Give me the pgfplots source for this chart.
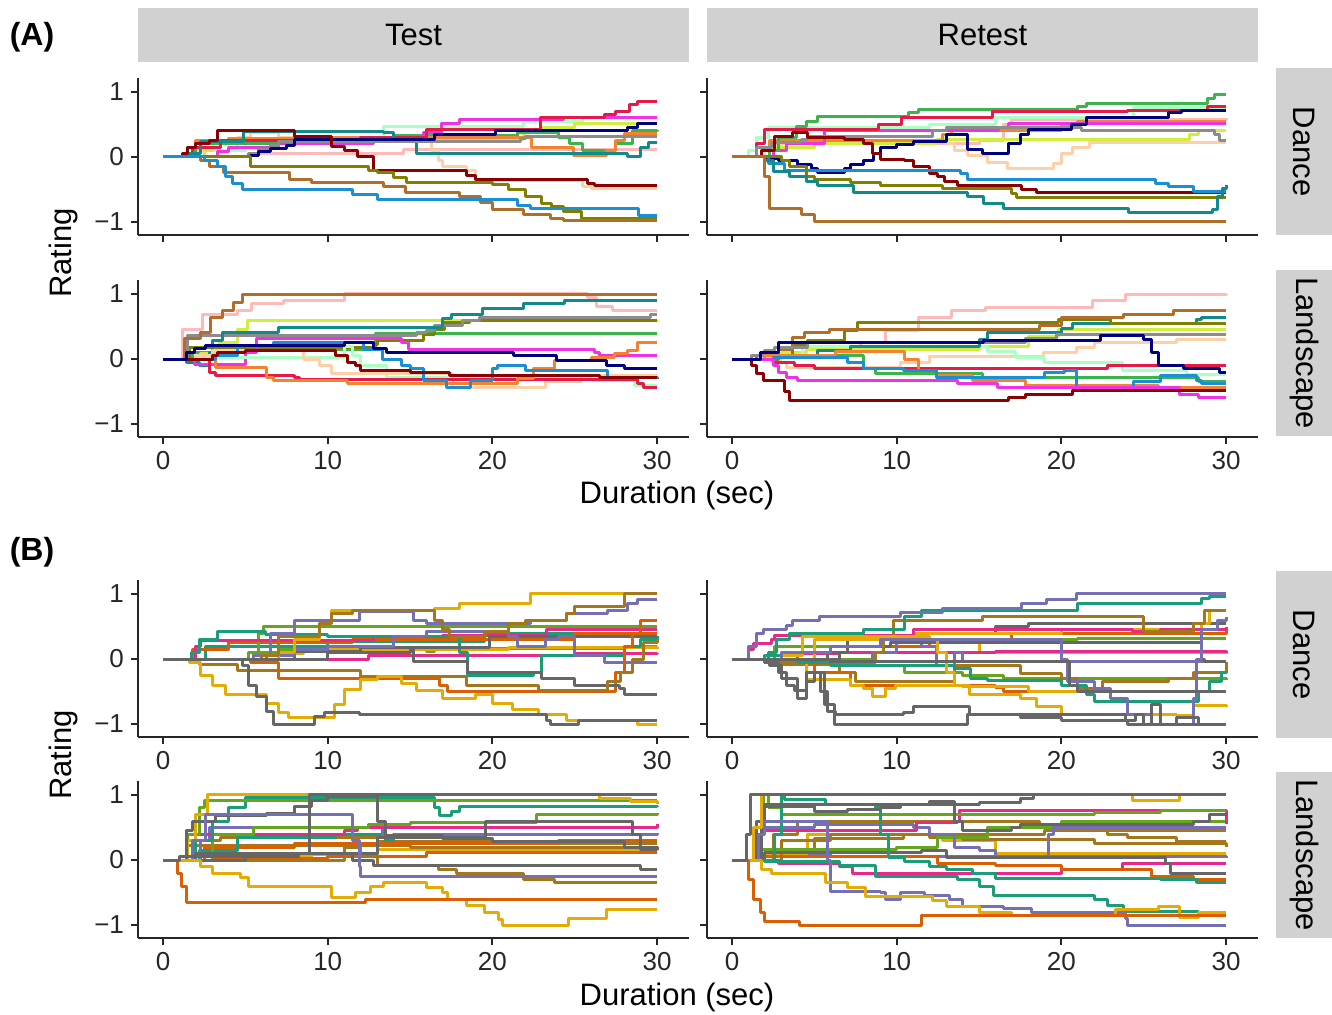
\documentclass[border=0pt]{standalone}
\usepackage{fontspec}
\setmainfont{Liberation Sans}
\usepackage{pgfplots}
\pgfplotsset{compat=1.18}
% block A colours
\definecolor{cCrim}{HTML}{E6194B}
\definecolor{cMag}{HTML}{F032E6}
\definecolor{cMint}{HTML}{AAFFC3}
\definecolor{cNavy}{HTML}{000080}
\definecolor{cMaroon}{HTML}{8B0000}
\definecolor{cTeal}{HTML}{138A8A}
\definecolor{cOlive}{HTML}{808000}
\definecolor{cBrown}{HTML}{B06E28}
\definecolor{cBlue}{HTML}{1B8FD4}
\definecolor{cApri}{HTML}{FFCFA8}
\definecolor{cPink}{HTML}{FFB9B9}
\definecolor{cOrange}{HTML}{F58231}
\definecolor{cGrey}{HTML}{8C8C8C}
\definecolor{cLime}{HTML}{CFEF3C}
\definecolor{cGreen}{HTML}{3CB44B}
% Dark2
\definecolor{dTeal}{HTML}{1B9E77}
\definecolor{dOrange}{HTML}{D95F02}
\definecolor{dPurple}{HTML}{7570B3}
\definecolor{dPink}{HTML}{E7298A}
\definecolor{dGreen}{HTML}{66A61E}
\definecolor{dYellow}{HTML}{E6AB02}
\definecolor{dBrown}{HTML}{A6761D}
\definecolor{dGray}{HTML}{666666}
\definecolor{stripgray}{HTML}{D1D1D1}
\definecolor{axcol}{HTML}{262626}

\newcommand{\pl}[2]{\addplot[#1] coordinates {#2};}

\pgfplotsset{
  panel/.style={
    scale only axis, width=275.5pt, height=78.5pt,
    xmin=-1.52, xmax=31.94, ymin=-1.2, ymax=1.215,
    axis x line*=bottom, axis y line*=left,
    axis line style={-, line width=1pt, color=axcol},
    xtick={0,10,20,30}, xticklabels={0,10,20,30},
    ytick={-1,0,1}, yticklabels={−1,0,1},
    tick align=outside, major tick length=3.5pt,
    tick style={line width=0.9pt, color=axcol},
    ticklabel style={font=\fontsize{13}{15}\selectfont, text=axcol},
    every axis plot/.append style={const plot, no markers, line width=1.5pt, line join=round},
  },
  notick/.style={xticklabels={}},
  noylab/.style={yticklabels={}},
}

\begin{document}
\begin{tikzpicture}
\path[use as bounding box] (0,0) rectangle (666pt,-507pt);

% ---------- strips ----------
\fill[stripgray] (69pt,-4pt) rectangle (344.5pt,-31pt);
\fill[stripgray] (353.5pt,-4pt) rectangle (629pt,-31pt);
\node[font=\fontsize{15.5}{18}\selectfont] at (206.75pt,-17.5pt) {Test};
\node[font=\fontsize{15.5}{18}\selectfont] at (491.25pt,-17.5pt) {Retest};
\fill[stripgray] (638pt,-34pt) rectangle (666pt,-117.5pt);
\fill[stripgray] (638pt,-135pt) rectangle (666pt,-218pt);
\fill[stripgray] (638pt,-285.5pt) rectangle (666pt,-369pt);
\fill[stripgray] (638pt,-386pt) rectangle (666pt,-469pt);
\node[rotate=-90,font=\fontsize{15.5}{18}\selectfont] at (652pt,-75.75pt) {Dance};
\node[rotate=-90,font=\fontsize{15.5}{18}\selectfont] at (652pt,-176.5pt) {Landscape};
\node[rotate=-90,font=\fontsize{15.5}{18}\selectfont] at (652pt,-327.25pt) {Dance};
\node[rotate=-90,font=\fontsize{15.5}{18}\selectfont] at (652pt,-427.5pt) {Landscape};

% ---------- labels ----------
\node[font=\fontsize{16}{18}\selectfont\bfseries] at (16pt,-18.5pt) {(A)};
\node[font=\fontsize{16}{18}\selectfont\bfseries] at (16pt,-276pt) {(B)};
\node[rotate=90,font=\fontsize{15.5}{18}\selectfont] at (31.5pt,-126.5pt) {Rating};
\node[rotate=90,font=\fontsize{15.5}{18}\selectfont] at (31.5pt,-377.5pt) {Rating};
\node[font=\fontsize{15.5}{18}\selectfont] at (338.5pt,-247.5pt) {Duration (sec)};
\node[font=\fontsize{15.5}{18}\selectfont] at (338.5pt,-498.5pt) {Duration (sec)};

% ================= A: Test / Dance =================
\begin{axis}[panel, notick, at={(69pt,-39pt)}, anchor=north west]
\pl{cPink}{(0,0)(5.4,0.06)(14.6,0.11)(30,0.11)}
\pl{cApri}{(0,0)(2,0.1)(4.5,0.3)(5.3,0.37)(7,0.3)(12,0.24)(16,0.24)(16.3,0.1)(16.7,-0.05)(17,-0.14)(18.4,-0.2)(19,-0.36)(25.5,-0.45)(26,-0.48)(30,-0.48)}
\pl{cMint}{(0,0)(2.5,0.1)(5,0.25)(9,0.3)(13.4,0.47)(21.9,0.55)(25.5,0.61)(30,0.61)}
\pl{cLime}{(0,0)(2.5,0.1)(3,0.2)(5.5,0.29)(17,0.27)(21.9,0.38)(23,0.46)(25,0.52)(30,0.52)}
\pl{cGreen}{(0,0)(2,0.2)(8,0.3)(14,0.33)(21.5,0.37)(24,0.3)(24.7,0.2)(25.5,0.1)(27.5,0.2)(28.5,0.4)(30,0.42)}
\pl{cOrange}{(0,0)(1.5,0.15)(2,0.25)(4,0.28)(8,0.3)(20,0.3)(22.4,0.14)(24.9,0.02)(26.9,0.1)(27.5,0.25)(28,0.36)(30,0.36)}
\pl{cMag}{(0,0)(3.3,0.08)(4,0.14)(7,0.2)(12.8,0.3)(15.8,0.38)(16.9,0.52)(18,0.57)(24.3,0.6)(30,0.6)}
\pl{cCrim}{(0,0)(1.8,0.15)(3.5,0.25)(12,0.3)(16,0.42)(22.9,0.6)(26.8,0.66)(27.5,0.7)(28.3,0.8)(28.8,0.86)(30,0.86)}
\pl{cTeal}{(0,0)(1.5,0.05)(2.3,0.24)(4.9,0.39)(12.3,0.39)(13.4,0.38)(14,0.24)(15.4,0.06)(28.2,0)(29,0.15)(29.5,0.22)(30,0.22)}
\pl{cGrey}{(0,0)(5.2,0.05)(5.8,0.12)(6.5,0.18)(7,0.24)(21.7,0.28)(22,0.32)(30,0.32)}
\pl{cNavy}{(0,0)(5.3,0.03)(5.8,0.08)(6.5,0.13)(7.5,0.17)(8,0.27)(16.5,0.34)(20.2,0.41)(28.2,0.45)(28.8,0.51)(30,0.51)}
\pl{cMaroon}{(0,0)(1.2,0.05)(1.5,0.15)(2,0.2)(2.8,0.25)(3.3,0.41)(8,0.32)(10.2,0.16)(11,0.1)(11.8,0.01)(12.8,-0.2)(18.4,-0.28)(19,-0.34)(25.8,-0.4)(26.2,-0.44)(30,-0.44)}
\pl{cOlive}{(0,0)(5.3,-0.14)(12.5,-0.2)(13,-0.24)(14,-0.32)(14.8,-0.39)(20,-0.43)(21,-0.5)(22,-0.6)(23,-0.71)(23.6,-0.76)(24.3,-0.84)(25.4,-0.94)(30,-0.94)}
\pl{cBrown}{(0,0)(2.3,-0.05)(2.8,-0.15)(3.7,-0.24)(7.7,-0.34)(9,-0.39)(13.4,-0.45)(14.7,-0.55)(18,-0.61)(19.3,-0.7)(20,-0.8)(21.9,-0.89)(23.5,-0.95)(24.3,-0.97)(30,-0.97)}
\pl{cBlue}{(0,0)(2.5,-0.05)(3.3,-0.15)(3.8,-0.3)(4.2,-0.4)(4.8,-0.5)(11.5,-0.58)(13,-0.65)(21.5,-0.74)(22.3,-0.79)(28.9,-0.9)(30,-0.9)}
\end{axis}

% ================= A: Retest / Dance =================
\begin{axis}[panel, notick, noylab, at={(353.5pt,-39pt)}, anchor=north west]
\pl{cPink}{(0,0)(2.5,0.2)(15,0.25)(16.5,0.5)(17,0.57)(30,0.6)}
\pl{cMint}{(0,0)(1,0.1)(1.5,0.3)(2.2,0.45)(12,0.5)(16,0.6)(24.4,0.76)(30,0.76)}
\pl{cApri}{(0,0)(2,0.1)(3,0.24)(13,0.2)(13.5,0.1)(14.3,0.02)(15.5,-0.08)(16.7,-0.18)(19.5,-0.1)(20,0.05)(20.7,0.15)(21.7,0.22)(30,0.22)}
\pl{cLime}{(0,0)(2.5,0.15)(5,0.2)(12.5,0.27)(27.8,0.35)(28.3,0.41)(30,0.41)}
\pl{cOrange}{(0,0)(2.3,0.26)(12.8,0.35)(13.3,0.4)(20,0.5)(21,0.55)(30,0.55)}
\pl{cMag}{(0,0)(2.5,0.1)(3.3,0.2)(5.6,0.4)(16.2,0.45)(16.8,0.51)(30,0.51)}
\pl{cGreen}{(0,0)(2.3,0.1)(2.8,0.3)(3.9,0.47)(4.5,0.55)(5.2,0.63)(10.7,0.68)(11.3,0.73)(21,0.78)(21.5,0.83)(28.9,0.9)(29.3,0.96)(30,0.96)}
\pl{cCrim}{(0,0)(1.5,0.2)(2,0.42)(8.9,0.5)(10.3,0.6)(15.8,0.7)(24,0.72)(28.9,0.77)(30,0.77)}
\pl{cGrey}{(0,0)(1.5,0.14)(2.4,0.22)(4.2,0.27)(4.6,0.32)(12.2,0.4)(13,0.46)(21.2,0.41)(29.3,0.35)(29.6,0.26)(30,0.26)}
\pl{cNavy}{(0,0)(2,-0.02)(2.8,-0.05)(4,-0.12)(4.8,-0.18)(5.2,-0.24)(6.8,-0.18)(7.2,-0.12)(8,-0.05)(8.6,0.05)(9,0.14)(10,0.19)(11,0.24)(13,0.34)(14.3,0.11)(15.2,0.06)(16.8,0.2)(17.5,0.35)(18,0.42)(20.6,0.5)(21.5,0.6)(26.5,0.68)(27.3,0.72)(30,0.72)}
\pl{cMaroon}{(0,0)(1.8,0.1)(2.6,0.32)(3.7,0.37)(4.6,0.3)(6.8,0.27)(8,0.2)(8.5,0.05)(9,-0.04)(10.5,-0.06)(11,-0.15)(12,-0.25)(12.5,-0.3)(12.9,-0.38)(13.7,-0.44)(17.6,-0.5)(18.5,-0.55)(30,-0.55)}
\pl{cBlue}{(0,0)(2.2,-0.1)(3.2,-0.2)(13.9,-0.25)(14.3,-0.34)(25.7,-0.4)(26.5,-0.46)(28,-0.53)(30,-0.53)}
\pl{cOlive}{(0,0)(3,-0.05)(3.5,-0.15)(4.5,-0.3)(5,-0.35)(7.2,-0.39)(9,-0.44)(12.8,-0.48)(17,-0.56)(17.3,-0.63)(30,-0.63)}
\pl{cTeal}{(0,0)(2,-0.05)(2.5,-0.22)(3.5,-0.3)(4.5,-0.38)(5.2,-0.44)(7.4,-0.55)(14.3,-0.6)(15.3,-0.71)(16.5,-0.79)(24.1,-0.85)(29.2,-0.8)(29.5,-0.6)(29.8,-0.48)(30,-0.43)}
\pl{cBrown}{(0,0)(2,-0.3)(2.3,-0.79)(4.2,-0.89)(5,-0.99)(30,-0.99)}
\end{axis}

% ================= A: Test / Landscape =================
\begin{axis}[panel, at={(69pt,-140pt)}, anchor=north west]
\pl{cGreen}{(0,0)(1.8,0.1)(3,0.13)(8,0.15)(12.9,0.39)(30,0.39)}
\pl{cLime}{(0,0)(2.3,0.09)(3.4,0.26)(4.5,0.45)(5.1,0.59)(30,0.6)}
\pl{cOlive}{(0,0)(1.6,0.18)(12.8,0.23)(13,0.28)(15.8,0.38)(16.5,0.46)(17.1,0.56)(18.6,0.59)(30,0.59)}
\pl{cGrey}{(0,0)(1.5,0.36)(15.4,0.4)(16,0.44)(16.5,0.51)(18.2,0.59)(19.2,0.64)(29.6,0.69)(30,0.69)}
\pl{cPink}{(0,0)(1.2,0.46)(2.4,0.69)(4.5,0.74)(5.4,0.85)(7.3,0.9)(11,1.0)(25.8,0.95)(26.3,0.8)(27.3,0.74)(30,0.74)}
\pl{cTeal}{(0,0)(1.4,-0.05)(2.2,-0.1)(2.8,0.1)(3,0.28)(3.6,0.41)(6.9,0.41)(7,0.49)(16.9,0.5)(17,0.62)(17.5,0.69)(19.4,0.77)(21.9,0.85)(24.4,0.9)(30,0.9)}
\pl{cBrown}{(0,0)(1.3,0.31)(2.3,0.41)(2.9,0.64)(3.6,0.74)(4.3,0.87)(4.8,0.99)(30,0.99)}
\pl{cMag}{(0,0)(1.9,-0.09)(5,0.1)(5.7,0.31)(14.5,0.25)(14.9,0.15)(26.2,0.1)(26.5,0.05)(30,0.05)}
\pl{cMint}{(0,0)(2,0.03)(11,0.2)(11.5,0.05)(12,-0.1)(13.6,-0.28)(26,-0.33)(28.6,-0.41)(30,-0.41)}
\pl{cApri}{(0,0)(2,0.05)(3,0.13)(7.8,0.13)(8.5,0)(9.5,-0.1)(10.2,-0.23)(17.6,-0.44)(23.2,-0.35)(25.4,-0.26)(30,-0.26)}
\pl{cCrim}{(0,0)(2.8,-0.2)(3.2,-0.26)(8,-0.28)(8.3,-0.32)(28.8,-0.38)(29.2,-0.44)(30,-0.44)}
\pl{cOrange}{(0,0)(3.2,-0.13)(6.3,-0.28)(6.7,-0.33)(11.2,-0.38)(21.5,-0.3)(22.5,-0.15)(23.8,-0.02)(26,0.02)(27.4,0.08)(28.2,0.13)(28.8,0.26)(30,0.26)}
\pl{cBlue}{(0,0)(3.2,0.05)(4.5,0.2)(6.7,0.26)(11.5,0.26)(12.2,0.15)(13.3,0)(14.5,-0.1)(15,-0.15)(15.8,-0.33)(17.2,-0.44)(18.7,-0.33)(20,-0.15)(20.3,-0.1)(22,-0.18)(27,-0.28)(30,-0.3)}
\pl{cMaroon}{(0,0)(3,0.05)(3.3,0.1)(5,0.13)(10,0.13)(10.5,0.05)(11.2,-0.05)(11.7,-0.1)(12,-0.18)(15,-0.2)(17.4,-0.25)(26.5,-0.29)(30,-0.29)}
\pl{cNavy}{(0,0)(1.4,0.1)(1.9,0.16)(2.6,0.21)(11,0.26)(12.8,0.16)(13.6,0.1)(21.3,0.05)(23.9,-0.03)(26.9,-0.1)(28,-0.14)(30,-0.14)}
\end{axis}

% ================= A: Retest / Landscape =================
\begin{axis}[panel, noylab, at={(353.5pt,-140pt)}, anchor=north west]
\pl{cPink}{(0,0)(2.4,0.03)(6.7,0.08)(7.8,0.26)(9.3,0.44)(11.3,0.64)(13.3,0.74)(15.4,0.79)(21.9,0.9)(23.9,0.99)(30,1)}
\pl{cLime}{(0,0)(3,0.1)(4.5,0.15)(15,0.2)(18,0.35)(19.8,0.46)(30,0.46)}
\pl{cApri}{(0,0)(2.4,-0.05)(3.3,-0.13)(10.2,-0.05)(12,0.04)(18.9,0.1)(20.9,0.18)(22,0.26)(27,0.3)(30,0.3)}
\pl{cMint}{(0,0)(2,0.05)(4.3,0.2)(15,0.2)(15.5,0.12)(17.2,0.03)(19,-0.05)(23.7,-0.18)(27.6,-0.24)(30,-0.24)}
\pl{cTeal}{(0,0)(2.6,0.05)(5.2,0.13)(7.2,0.2)(9.5,0.2)(15,0.3)(15.5,0.41)(20,0.47)(20.7,0.54)(28.2,0.6)(28.5,0.64)(30,0.64)}
\pl{cOlive}{(0,0)(1.5,0.05)(3.7,0.23)(4.6,0.28)(6.8,0.44)(7.6,0.56)(19.8,0.6)(23,0.55)(30,0.55)}
\pl{cBrown}{(0,0)(2.8,0.15)(3.7,0.33)(4.4,0.41)(5.9,0.46)(18.7,0.51)(20,0.64)(23.8,0.69)(26.8,0.75)(30,0.75)}
\pl{cGrey}{(0,0)(1.2,0.05)(2,0.13)(2.6,0.18)(4.6,0.26)(17.8,0.31)(19.7,0.38)(30,0.38)}
\pl{cCrim}{(0,0)(2.5,-0.05)(3.8,-0.1)(5,-0.14)(22.8,-0.1)(30,-0.1)}
\pl{cGreen}{(0,0)(2,0.06)(7,0.05)(8,-0.15)(8.7,-0.23)(15.2,-0.29)(28.3,-0.34)(30,-0.34)}
\pl{cOrange}{(0,0)(2,0.05)(6.3,0.12)(9.8,0.12)(10.5,0)(11.3,-0.18)(12.4,-0.26)(14.6,-0.33)(17.8,-0.41)(25.9,-0.44)(30,-0.44)}
\pl{cBlue}{(0,0)(2.5,0.02)(7,-0.05)(8,-0.15)(10.4,-0.18)(12.4,-0.28)(19,-0.2)(20.2,-0.18)(20.9,-0.44)(24.4,-0.35)(26,-0.26)(28.2,-0.33)(28.5,-0.38)(30,-0.38)}
\pl{cMag}{(0,0)(2.5,-0.1)(2.8,-0.2)(3.3,-0.28)(4,-0.33)(13.7,-0.38)(16.1,-0.44)(27.2,-0.54)(28.3,-0.59)(30,-0.59)}
\pl{cMaroon}{(0,0)(1.2,-0.1)(1.5,-0.23)(1.9,-0.33)(3.2,-0.5)(3.5,-0.64)(16.8,-0.59)(17.8,-0.55)(20.7,-0.49)(30,-0.49)}
\pl{cNavy}{(0,0)(1.7,0.1)(2.8,0.26)(15.3,0.28)(22.4,0.36)(25,0.3)(25.5,0.1)(25.9,-0.1)(27.4,-0.14)(29.6,-0.2)(30,-0.2)}
\end{axis}

% ================= B: Test / Dance =================
\begin{axis}[panel, at={(69pt,-290pt)}, anchor=north west]
\pl{dGreen}{(0,0)(5.5,0.1)(7,0.15)(16,0.12)(16.5,0.16)(28,0.2)(30,0.2)}
\pl{dPink}{(0,0)(12.5,0.05)(25,0.08)(30,0.1)}
\pl{dYellow}{(0,0)(7,0.08)(8.5,0.14)(21,0.18)(30,0.15)}
\pl{dTeal}{(0,0)(2.6,0.19)(10,0.27)(19.5,0.4)(24,0.4)(26,0.38)(30,0.38)}
\pl{dOrange}{(0,0)(1.8,0.15)(4,0.25)(8,0.25)(11.5,0.3)(17,0.3)(25,0.4)(30,0.4)}
\pl{dGreen}{(0,0)(5.2,0.1)(5.8,0.4)(6.1,0.5)(30,0.5)}
\pl{dPink}{(0,0)(2,0.2)(2.3,0.29)(12.8,0.34)(17,0.36)(23.3,0.45)(30,0.45)}
\pl{dTeal}{(0,0)(1.7,0.1)(2.2,0.3)(3.3,0.42)(6.2,0.38)(10,0.35)(17.8,0.35)(18,0.1)(18.5,-0.25)(22.5,-0.2)(23,0.05)(26,0.05)(28,0.2)(29,0.3)(30,0.35)}
\pl{dGray}{(0,0)(8,0.12)(12,0.18)(19.8,0.34)(30,0.34)}
\pl{dPurple}{(0,0)(5.5,-0.05)(6.3,0.05)(8,0.15)(10,0.2)(14,0.35)(16,0.42)(21,0.35)(21.5,0.2)(23.2,0.3)(24,0.35)(25,0.05)(26.8,-0.05)(30,-0.05)}
\pl{dPurple}{(0,0)(5.5,0.05)(6.5,0.4)(8,0.6)(11.9,0.73)(15.2,0.6)(16,0.55)(21,0.55)(22.3,0.6)(24.5,0.7)(27,0.75)(28.2,0.85)(28.8,0.91)(30,0.91)}
\pl{dYellow}{(0,0)(7,0.1)(8,0.3)(9.5,0.55)(10.2,0.75)(16.5,0.78)(18,0.86)(22.3,1.0)(30,1.0)}
\pl{dBrown}{(0,0)(6,0.05)(7,0.35)(9.5,0.55)(10.2,0.7)(11.5,0.75)(16.5,0.6)(17,0.45)(17.4,0.35)(19.6,0.42)(21,0.55)(22,0.6)(24.5,0.7)(25,0.8)(28,1.0)(30,1.0)}
\pl{dOrange}{(0,0)(5.3,-0.05)(7,-0.3)(16.8,-0.4)(17.3,-0.5)(27.5,-0.2)(28,0.2)(28.5,0.4)(29,0.6)(30,0.6)}
\pl{dGray}{(0,0)(10,0.1)(15,0.15)(15.2,-0.04)(18,-0.04)(18.5,-0.2)(23,-0.3)(25,-0.4)(27.7,-0.45)(28,-0.55)(30,-0.55)}
\pl{dBrown}{(0,0)(2.2,-0.09)(4.5,-0.17)(12,-0.27)(18.4,-0.4)(22.8,-0.49)(27,-0.35)(27.8,-0.2)(28.5,0)(29.2,0.25)(30,0.3)}
\pl{dYellow}{(0,0)(1.6,-0.05)(2.3,-0.25)(3,-0.4)(3.8,-0.55)(6.3,-0.68)(7,-0.83)(7.6,-0.9)(10.4,-0.7)(11,-0.47)(12,-0.32)(13,-0.27)(14.5,-0.37)(15.4,-0.48)(17,-0.6)(19,-0.55)(20,-0.68)(21.2,-0.78)(22.8,-0.85)(24.5,-0.95)(28.8,-1.0)(30,-1.0)}
\pl{dGray}{(0,0)(4.8,-0.1)(5.2,-0.4)(5.7,-0.58)(6.3,-0.8)(6.7,-1.0)(9.2,-0.88)(9.8,-0.82)(11.9,-0.85)(23.3,-0.95)(23.5,-1.0)(25.2,-0.95)(30,-0.95)}
\end{axis}

% ================= B: Retest / Dance =================
\begin{axis}[panel, noylab, at={(353.5pt,-290pt)}, anchor=north west]
\pl{dYellow}{(0,0)(3,0.1)(6,0.2)(10,0.25)(15,0.1)(30,0.08)}
\pl{dPink}{(0,0)(4,0.08)(6.5,0.1)(16,0.12)(30,0.1)}
\pl{dGreen}{(0,0)(2.6,0.19)(8,0.2)(11.5,0.25)(13,0.28)(15,0.3)(21,0.32)(30,0.32)}
\pl{dOrange}{(0,0)(3,0.1)(7,0.2)(12,0.25)(17,0.4)(30,0.45)}
\pl{dGray}{(0,0)(5.8,0.1)(7,0.3)(11,0.4)(16,0.5)(18,0.55)(30,0.55)}
\pl{dYellow}{(0,0)(5,0.3)(11,0.4)(20,0.45)(28.5,0.55)(29,0.75)(30,0.75)}
\pl{dPink}{(0,0)(1,0.15)(1.3,0.24)(2.4,0.3)(2.6,0.36)(6.5,0.36)(11,0.45)(24.3,0.42)(26,0.45)(30,0.5)}
\pl{dGreen}{(0,0)(8.5,-0.1)(10.5,-0.2)(14,-0.25)(16.5,-0.3)(30,-0.33)}
\pl{dBrown}{(0,0)(2.5,-0.09)(6.5,-0.2)(7.5,-0.35)(12.5,-0.35)(13.5,-0.1)(16,-0.1)(17.5,-0.22)(20,-0.3)(21,-0.45)(22.5,-0.35)(26.5,-0.3)(28,-0.2)(30,-0.05)}
\pl{dPurple}{(0,0)(2.6,-0.04)(8.5,0.1)(10,0.35)(11.5,0.2)(12.4,-0.1)(13,-0.1)(13.5,0.1)(14,-0.04)(30,-0.04)}
\pl{dGray}{(0,0)(6.5,0.1)(7,0.2)(9.6,0.26)(28,0.26)(28.5,0)(28.7,-0.04)(30,-0.04)}
\pl{dOrange}{(0,0)(2.5,-0.05)(5,-0.2)(7.2,-0.4)(16,-0.44)(16.5,-0.5)(30,-0.5)}
\pl{dYellow}{(0,0)(2,-0.05)(4.5,-0.32)(7.2,-0.4)(8,-0.45)(8.5,-0.58)(9.3,-0.45)(9.9,-0.4)(14,-0.42)(18,-0.5)(30,-0.5)}
\pl{dBrown}{(0,0)(2.5,-0.05)(8.7,0.1)(9.2,0.35)(9.8,0.6)(15.2,0.66)(25,0.42)(28,0.55)(28.7,0.75)(30,0.75)}
\pl{dTeal}{(0,0)(2.2,0.1)(2.7,0.3)(3.5,0.4)(8,0.45)(10.5,0.65)(11.5,0.74)(21,0.86)(28.5,0.93)(29,0.96)(30,0.96)}
\pl{dPurple}{(0,0)(1,0.2)(1.5,0.39)(1.9,0.45)(3.3,0.52)(3.7,0.6)(5.3,0.65)(10.2,0.71)(12.8,0.78)(17.6,0.86)(19.1,0.91)(20.9,1.0)(30,1.0)}
\pl{dTeal}{(0,0)(2,0.05)(4,-0.05)(6,-0.1)(11.5,-0.1)(13.5,-0.15)(14.5,-0.3)(15.5,-0.33)(20,-0.4)(21.5,-0.55)(22,-0.66)(27.6,-0.66)(28.3,-0.5)(29,-0.35)(29.7,-0.2)(30,-0.19)}
\pl{dYellow}{(0,0)(3,0.05)(4.3,0.34)(12,0.3)(12.5,0.1)(13,-0.2)(13.5,-0.4)(14.4,-0.55)(17.5,-0.6)(18.5,-0.73)(20,-0.85)(27,-0.87)(28,-0.72)(30,-0.74)}
\pl{dPurple}{(0,0)(3,0.1)(6,0.2)(9,0.3)(19.5,0.3)(20,0)(20.4,-0.35)(22,-0.45)(23,-0.6)(24,-0.85)(25.5,-1.0)(27.6,-1.0)(28,-0.6)(28.2,0)(28.5,0.45)(29.5,0.6)(30,0.65)}
\pl{dGray}{(0,0)(2.3,-0.1)(3,-0.3)(4,-0.6)(4.5,-0.2)(5.5,-0.2)(5.6,-0.7)(6.2,-1.0)(14,-1.0)(14.3,-0.85)(15,-0.85)(17.5,-0.9)(20,-0.95)(24,-1.0)(30,-1.0)}
\pl{dGray}{(0,0)(2,-0.05)(2.8,-0.2)(3.3,-0.4)(3.8,-0.48)(4.5,-0.35)(5,-0.2)(5.4,-0.5)(5.8,-0.8)(6.3,-0.85)(10.4,-0.83)(11,-0.73)(13.5,-0.73)(14.4,-0.85)(23.9,-0.95)(24.5,-0.85)(25,-1.0)(25.5,-0.7)(26,-1.0)(27,-0.9)(28.3,-1.0)(30,-1.0)}
\pl{dGray}{(0,0)(6,-0.04)(17,-0.04)(20.5,-0.4)(21,-0.5)(30,-0.5)}
\end{axis}

% ================= B: Test / Landscape =================
\begin{axis}[panel, at={(69pt,-390.5pt)}, anchor=north west]
\pl{dYellow}{(0,0)(3,0.05)(9,0.08)(13,0.16)(30,0.18)}
\pl{dOrange}{(0,0)(3,0.03)(10,0.05)(16,0.11)(30,0.11)}
\pl{dBrown}{(0,0)(1.5,0.22)(7,0.22)(15,0.2)(28,0.2)(30,0.15)}
\pl{dBrown}{(0,0)(1.8,0.3)(3.5,0.35)(13,0.28)(20,0.25)(30,0.25)}
\pl{dOrange}{(0,0)(2.5,0.2)(8,0.25)(24,0.3)(30,0.3)}
\pl{dTeal}{(0,0)(2.2,0.15)(4.5,0.35)(10.5,0.4)(13.5,0.3)(14,0.4)(30,0.4)}
\pl{dPurple}{(0,0)(2.3,0.3)(2.8,0.5)(13,0.5)(13.3,0.35)(14,0.4)(30,0.42)}
\pl{dPink}{(0,0)(1.5,0.4)(11,0.45)(11.8,0.5)(15,0.5)(30,0.55)}
\pl{dGreen}{(0,0)(3,0.4)(5.5,0.5)(12.5,0.55)(15,0.58)(22.7,0.7)(30,0.73)}
\pl{dTeal}{(0,0)(2,0.3)(3,0.6)(4,0.8)(5,0.96)(16.2,0.96)(16.5,0.8)(16.8,0.68)(17.5,0.75)(18,0.83)(30,0.82)}
\pl{dGreen}{(0,0)(1.5,0.4)(2.2,0.8)(2.5,0.91)(30,0.91)}
\pl{dYellow}{(0,0)(1.5,0.3)(2,0.7)(2.7,1.0)(26.5,0.95)(28.4,0.9)(30,0.86)}
\pl{dGray}{(0,0)(2,0.1)(7,0.1)(12.5,0.1)(13,0.35)(19.5,0.35)(19.6,0.6)(27.5,0.6)(28.5,0.4)(29,0.2)(30,0.15)}
\pl{dGray}{(0,0)(1.4,0.45)(1.8,0.6)(3.2,0.68)(6.3,0.72)(8,0.83)(9,0.92)(10,0.98)(12.3,0.98)(13,0.6)(13.5,0.37)(16,0.37)(17,0.33)(20,0.28)(26,0.28)(28,0.2)(29,0.16)(30,0.16)}
\pl{dBrown}{(0,0)(11,0.2)(12,0.05)(13,-0.09)(16.7,-0.14)(17.8,-0.2)(21.9,-0.3)(23.8,-0.35)(30,-0.35)}
\pl{dGray}{(0,0)(5,0.1)(8,0.1)(11.5,0)(12.8,-0.09)(29,-0.15)(30,-0.15)}
\pl{dPurple}{(0,0)(1.8,0.3)(2.6,0.7)(10.6,0.7)(11.5,0.3)(11.9,-0.1)(12,-0.25)(30,-0.25)}
\pl{dYellow}{(0,0)(2.3,-0.1)(3,-0.2)(4.7,-0.27)(5.2,-0.4)(10.2,-0.58)(11.7,-0.5)(12.6,-0.4)(13.4,-0.35)(16,-0.43)(17,-0.5)(17.3,-0.6)(18.4,-0.7)(19.5,-0.81)(20.4,-0.92)(20.6,-1.0)(24.6,-0.9)(26.9,-0.76)(30,-0.76)}
\pl{dOrange}{(0,0)(0.9,-0.2)(1.1,-0.4)(1.4,-0.66)(12.3,-0.6)(30,-0.6)}
\pl{dGray}{(0,0)(1,0.05)(8.2,0.1)(8.9,1.0)(30,1.0)}
\end{axis}

% ================= B: Retest / Landscape =================
\begin{axis}[panel, noylab, at={(353.5pt,-390.5pt)}, anchor=north west]
\pl{dPurple}{(0,0)(2,0.1)(6,0.05)(30,0.04)}
\pl{dYellow}{(0,0)(2,0.1)(4.6,0.4)(11.5,0.4)(12.8,0.3)(16,0.1)(30,0.1)}
\pl{dBrown}{(0,0)(2.5,0.05)(5,0.33)(10.4,0.4)(12,0.35)(14,0.32)(22,0.25)(30,0.2)}
\pl{dBrown}{(0,0)(3,0.3)(6,0.4)(19,0.45)(30,0.45)}
\pl{dBrown}{(0,0)(2.5,0.4)(4,0.6)(18.7,0.55)(20,0.47)(22.8,0.4)(24,0.34)(27,0.29)(30,0.29)}
\pl{dGreen}{(0,0)(1.8,0.16)(10,0.2)(12.5,0.35)(15.5,0.5)(20,0.6)(30,0.6)}
\pl{dPurple}{(0,0)(1.8,0.5)(5,0.55)(11,0.5)(12,0.4)(13.5,0.2)(15,0.15)(16,0.05)(19,0.05)(19.2,0.4)(19.5,0.5)(30,0.5)}
\pl{dPink}{(0,0)(1.8,0.45)(11,0.45)(11.2,0.58)(13.7,0.6)(13.8,0.76)(26,0.76)(30,0.55)}
\pl{dPink}{(0,0)(2.8,-0.05)(6.5,-0.1)(7.3,-0.2)(17,-0.2)(20,-0.15)(23.7,-0.05)(30,-0.05)}
\pl{dOrange}{(0,0)(2,0.05)(12.5,-0.05)(16,-0.08)(20,-0.15)(25.5,-0.25)(28,-0.3)(30,-0.3)}
\pl{dGray}{(0,0)(2,0.12)(11.5,0.15)(13,0.04)(26.3,-0.05)(26.6,-0.2)(30,-0.2)}
\pl{dGreen}{(0,0)(1.5,0.6)(1.9,1.0)(2.2,0.8)(3,0.7)(18,0.7)(22,0.73)(26,0.76)(30,0.76)}
\pl{dTeal}{(0,0)(2.6,0.4)(3,1.0)(3.2,0.93)(5.7,0.86)(8.7,0.8)(9,0.4)(9.5,0.04)(10.5,-0.02)(12,-0.1)(13,-0.15)(14.6,-0.2)(16,-0.29)(26,-0.3)(28.2,-0.35)(30,-0.35)}
\pl{dTeal}{(0,0)(2,-0.02)(6.5,-0.09)(8.7,-0.25)(13.7,-0.3)(15,-0.4)(15.9,-0.55)(22,-0.6)(22.8,-0.7)(23.8,-0.79)(28.3,-0.8)(30,-0.8)}
\pl{dGray}{(0,0)(1.5,0.6)(2,0.86)(12,0.9)(12.8,0.9)(13.5,0.6)(14,0.45)(17,0.5)(17.5,0.55)(28,0.6)(29,0.7)(30,0.72)}
\pl{dGray}{(0,0)(1.8,0.83)(5,0.75)(7,0.78)(9,0.8)(10.2,0.85)(15,0.88)(17.5,0.95)(18.3,1.0)(30,1.0)}
\pl{dYellow}{(0,0)(1.3,0.5)(1.8,1.0)(24.3,0.92)(27.2,1.0)(30,1.0)}
\pl{dPurple}{(0,0)(1.6,0.4)(2,0.6)(5.5,0.6)(5.8,0)(6,-0.48)(9,-0.5)(9.3,-0.6)(10.2,-0.5)(11.7,-0.55)(13.2,-0.6)(14,-0.72)(16.5,-0.75)(18.2,-0.8)(23.9,-0.9)(24,-1.0)(30,-1.0)}
\pl{dYellow}{(0,0)(1.8,-0.15)(2.4,-0.21)(5.7,-0.35)(7,-0.43)(8.1,-0.56)(12.2,-0.62)(13,-0.71)(15,-0.81)(17,-0.86)(23.3,-0.76)(25.9,-0.71)(27.2,-0.89)(28.3,-0.81)(30,-0.81)}
\pl{dOrange}{(0,0)(1,-0.3)(1.3,-0.6)(1.7,-0.81)(2,-0.94)(4.1,-1.0)(11.5,-0.85)(30,-0.85)}
\pl{dGray}{(0,0)(0.9,0.4)(1.1,1.0)(30,1.0)}
\end{axis}
\end{tikzpicture}
\end{document}
